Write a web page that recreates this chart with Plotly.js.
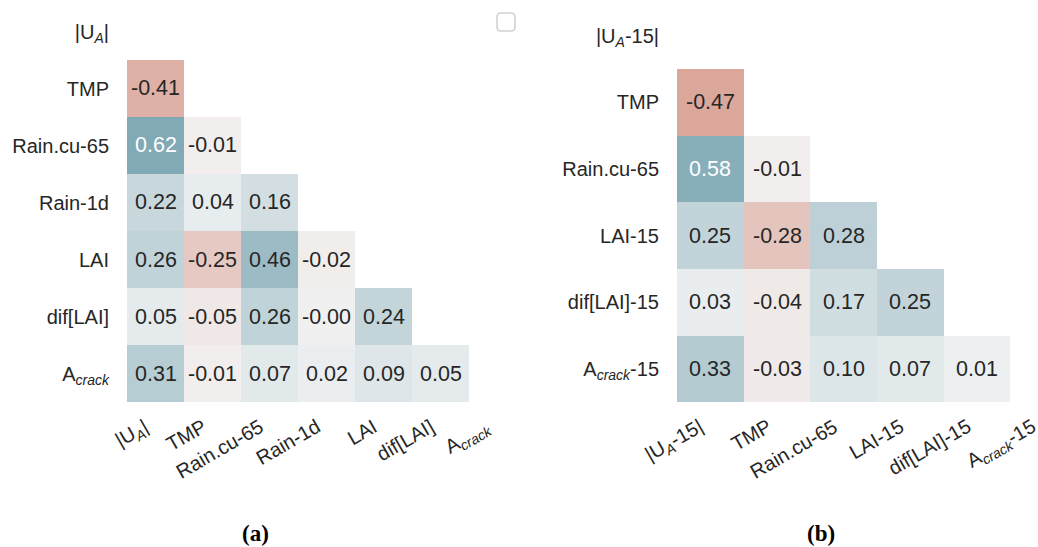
<!DOCTYPE html>
<html>
<head>
<meta charset="utf-8">
<script src="https://cdn.plot.ly/plotly-3.0.1.min.js"></script>
<style>
html,body{margin:0;padding:0;background:#fff;overflow:hidden;}
#wrap{width:1038px;height:547px;overflow:hidden;position:relative;}
#chart{width:1080px;height:547px;}
</style>
</head>
<body>
<div id="wrap"><div id="chart"></div></div>
<script>
// ---- data ----
const labelsA = ["|U<sub><i>A</i></sub>|", "TMP", "Rain.cu-65", "Rain-1d", "LAI", "dif[LAI]", "A<sub><i>crack</i></sub>"];
const triA = [
  [-0.41],
  [0.62, -0.01],
  [0.22, 0.04, 0.16],
  [0.26, -0.25, 0.46, -0.02],
  [0.05, -0.05, 0.26, -0.001, 0.24],
  [0.31, -0.01, 0.07, 0.02, 0.09, 0.05]
];
const labelsB = ["|U<sub><i>A</i></sub>-15|", "TMP", "Rain.cu-65", "LAI-15", "dif[LAI]-15", "A<sub><i>crack</i></sub>-15"];
const triB = [
  [-0.47],
  [0.58, -0.01],
  [0.25, -0.28, 0.28],
  [0.03, -0.04, 0.17, 0.25],
  [0.33, -0.03, 0.10, 0.07, 0.01]
];
const captions = ["<b>(a)</b>", "<b>(b)</b>"];

// ---- helpers ----
const W = 1080, H = 547;
const fx = p => p / W, fy = p => 1 - p / H;
const TXT = '#262626';
const FONT = 'Liberation Sans, Arial, sans-serif';
const cscale = [
  [0, 'rgb(195,85,60)'],
  [0.497, 'rgb(241,239,238)'],
  [0.5, 'rgb(240,240,240)'],
  [0.503, 'rgb(237,240,241)'],
  [1, 'rgb(62,125,145)']
];

function fullMatrix(tri, n) {
  const z = [];
  for (let i = 0; i < n; i++) {
    const row = [];
    for (let j = 0; j < n; j++) row.push(i > 0 && j < i ? tri[i - 1][j] : null);
    z.push(row);
  }
  return z;
}
const idx = n => Array.from({length: n}, (_, i) => i);

const nA = labelsA.length, nB = labelsB.length;
const zA = fullMatrix(triA, nA), zB = fullMatrix(triB, nB);

const traces = [
  {type: 'heatmap', z: zA, x: idx(nA), y: idx(nA), xaxis: 'x', yaxis: 'y',
   colorscale: cscale, zmin: -1, zmax: 1, showscale: false, hoverinfo: 'skip'},
  {type: 'heatmap', z: zB, x: idx(nB), y: idx(nB), xaxis: 'x2', yaxis: 'y2',
   colorscale: cscale, zmin: -1, zmax: 1, showscale: false, hoverinfo: 'skip'}
];

const annotations = [];
function cellText(z, xr, yr, size) {
  z.forEach((row, i) => row.forEach((v, j) => {
    if (v === null) return;
    annotations.push({xref: xr, yref: yr, x: j, y: i, text: v.toFixed(2), showarrow: false,
      font: {family: FONT, size: size, color: Math.abs(v) > 0.5 ? '#ffffff' : TXT}});
  }));
}
cellText(zA, 'x', 'y', 21.5);
cellText(zB, 'x2', 'y2', 21.5);

// rotated x tick labels: right/top corner of rotated box at the tick
function xLabels(labels, xr, yPx) {
  labels.forEach((t, j) => {
    annotations.push({xref: xr, yref: 'paper', x: j, y: fy(yPx), text: t, showarrow: false,
      textangle: -30, xanchor: 'right', yanchor: 'top',
      font: {family: FONT, size: 20, color: TXT}});
  });
}
xLabels(labelsA, 'x', 412);
xLabels(labelsB, 'x2', 412);

annotations.push({xref: 'paper', yref: 'paper', x: fx(255), y: fy(533), text: captions[0], showarrow: false,
  xanchor: 'center', yanchor: 'middle',
  font: {family: 'Liberation Serif, serif', size: 23, color: '#000'}});
annotations.push({xref: 'paper', yref: 'paper', x: fx(821), y: fy(533), text: captions[1], showarrow: false,
  xanchor: 'center', yanchor: 'middle',
  font: {family: 'Liberation Serif, serif', size: 23, color: '#000'}});

function xax(domain, n) {
  return {domain: domain, range: [-0.5, n - 0.5], showticklabels: false, ticks: '',
    showgrid: false, zeroline: false, showline: false, fixedrange: true};
}
function yax(domain, n, labels) {
  return {domain: domain, range: [n - 0.5, -0.5], tickvals: idx(n), ticktext: labels,
    ticks: 'outside', ticklen: 13, tickcolor: 'rgba(0,0,0,0)',
    showgrid: false, zeroline: false, showline: false, fixedrange: true,
    tickfont: {family: FONT, size: 20, color: TXT}};
}

// checkbox artifact (rounded square)
const bx0 = 497, bx1 = 515, by0 = 13, by1 = 31, r = 4;
const P = (x, y) => fx(x) + ',' + fy(y);
const boxPath = 'M' + P(bx0 + r, by0) + ' L' + P(bx1 - r, by0) + ' Q' + P(bx1, by0) + ' ' + P(bx1, by0 + r) +
  ' L' + P(bx1, by1 - r) + ' Q' + P(bx1, by1) + ' ' + P(bx1 - r, by1) +
  ' L' + P(bx0 + r, by1) + ' Q' + P(bx0, by1) + ' ' + P(bx0, by1 - r) +
  ' L' + P(bx0, by0 + r) + ' Q' + P(bx0, by0) + ' ' + P(bx0 + r, by0) + ' Z';

const layout = {
  width: W, height: H,
  margin: {l: 0, r: 0, t: 0, b: 0},
  paper_bgcolor: '#fff', plot_bgcolor: 'rgba(0,0,0,0)',
  showlegend: false,
  xaxis: Object.assign(xax([fx(127), fx(526)], nA), {anchor: 'y'}),
  yaxis: Object.assign(yax([fy(402), fy(3)], nA, labelsA), {anchor: 'x'}),
  xaxis2: Object.assign(xax([fx(677), fx(1077)], nB), {anchor: 'y2'}),
  yaxis2: Object.assign(yax([fy(402), fy(2.4)], nB, labelsB), {anchor: 'x2'}),
  annotations: annotations,
  shapes: [{type: 'path', xref: 'paper', yref: 'paper', path: boxPath,
    line: {color: '#d2d2d2', width: 1.6}, fillcolor: '#ffffff'}]
};

Plotly.newPlot('chart', traces, layout, {displayModeBar: false, staticPlot: true});
</script>
</body>
</html>
